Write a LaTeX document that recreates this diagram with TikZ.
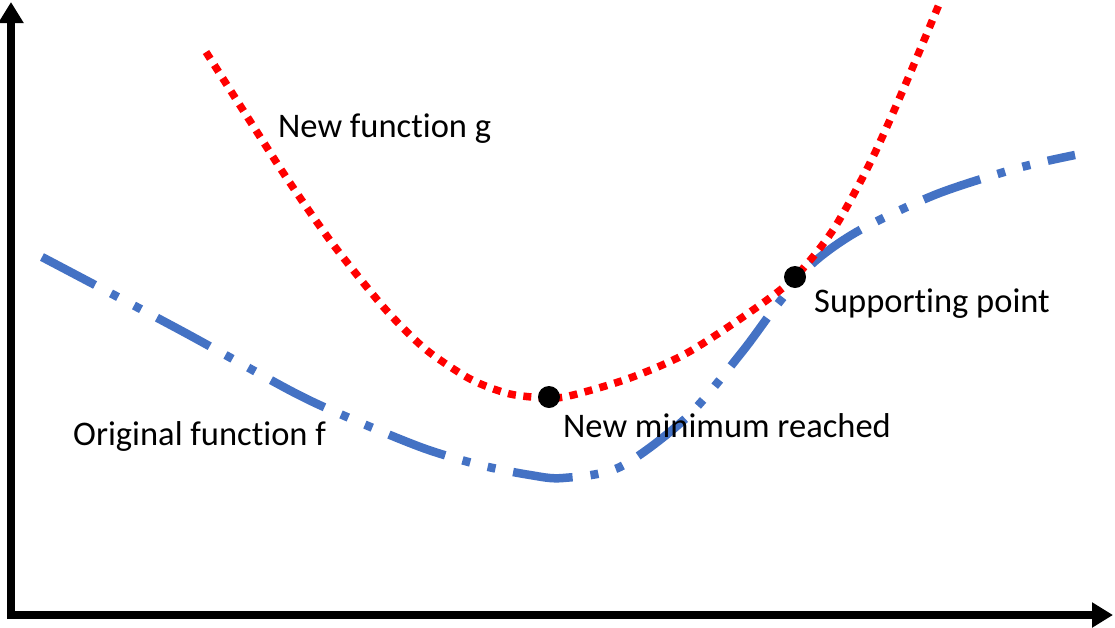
\documentclass[tikz,border=0pt]{standalone}
\usepackage{fontspec}
\setmainfont{Carlito}[Ligatures=NoCommon]
\usetikzlibrary{arrows.meta}

\definecolor{fblue}{RGB}{68,114,196}
\definecolor{gred}{RGB}{255,0,0}

\tikzset{
	axis/.style={line width=7.5pt, -{Triangle[width=24pt,length=21pt]}},
	fcurve/.style={fblue, line width=8.5pt, dash pattern=on 60pt off 18pt on 8pt off 18pt on 8pt off 18pt},
	gcurve/.style={gred, line width=7.5pt, dash pattern=on 8pt off 7.5pt},
	curvelabel/.style={anchor=base west, inner sep=0pt, font=\fontsize{34.5}{40}\selectfont},
	point/.style={circle, fill=black, inner sep=0pt, minimum size=22pt}
}

\begin{document}
\begin{tikzpicture}[x=1pt, y=-1pt]
			\useasboundingbox (0,0) rectangle (1115,627);
			
			% axes
			\coordinate (ybottom) at (11,619);
			\coordinate (ytop) at (11,2);
			\coordinate (xleft) at (7,615);
			\coordinate (xright) at (1113,615);
			\draw[axis] (ybottom) -- (ytop);
			\draw[axis] (xleft) -- (xright);
			
			% original function f
			\draw[fcurve] plot[smooth] coordinates {(42,257) (180,330) (293,392) (347,417) (423,448) (480,465) (530,475) (563,478) (620,467) (687,417) (742,352) (777,305) (813,263) (860,230) (937,194) (1018,168) (1075,155)};
			
			% new function g
			\draw[gcurve] plot[smooth] coordinates {(206,52) (257,132) (290,183) (332,243) (380,303) (410,335) (433,355) (472,380) (510,394) (549,398) (573,395) (630,378) (687,353) (753,310) (795,277) (833,230) (870,163) (903,90) (940,2)};
			
			\node (minpt) [point] at (549,397) {};
			\node (supppt) [point] at (795,277) {};
			
			\node (glabel) [curvelabel] at (278,137) {New function g};
			\node (flabel) [curvelabel] at (73,445) {Original function f};
			\node (minlabel) [curvelabel] at (563,437) {New minimum reached};
			\node (supplabel) [curvelabel] at (814,312) {Supporting point};
		\end{tikzpicture}
\end{document}
